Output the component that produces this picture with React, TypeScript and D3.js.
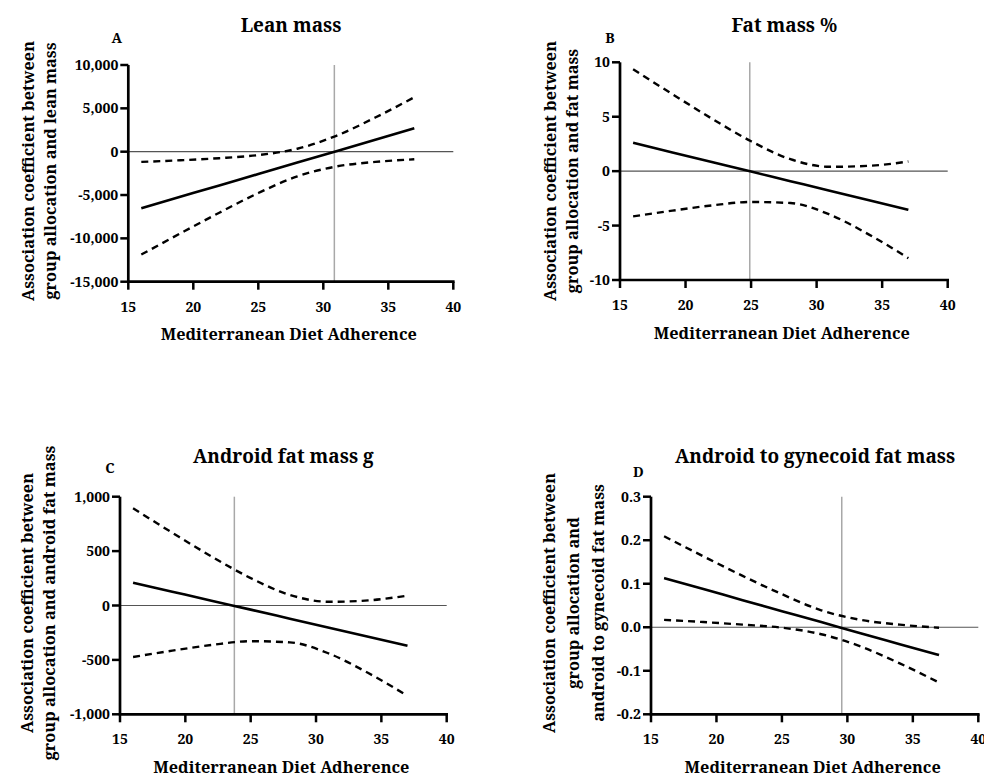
import React from "react";
import * as d3 from "d3";

// ---------- data ----------
const xValues = [16, 19, 22, 25, 28, 31, 34, 37];
const xTicks = [15, 20, 25, 30, 35, 40];

const leanEstimate = [-6530, -5210, -3890, -2580, -1260, 60, 1380, 2700];
const leanUpper = [-1180, -990, -750, -390, 340, 1830, 3940, 6280];
const leanLower = [-11870, -9430, -7040, -4770, -2850, -1710, -1180, -880];
const leanTicks = [10000, 5000, 0, -5000, -10000, -15000];
const leanCross = 30.85;

const fatEstimate = [2.6, 1.72, 0.84, -0.04, -0.92, -1.8, -2.67, -3.55];
const fatUpper = [9.36, 7.07, 4.83, 2.75, 1.1, 0.4, 0.49, 0.89];
const fatLower = [-4.16, -3.63, -3.15, -2.83, -2.93, -3.99, -5.83, -7.99];
const fatTicks = [10, 5, 0, -5, -10];
const fatCross = 24.9;

const androidEstimate = [210, 127, 44, -38, -121, -204, -287, -370];
const androidUpper = [893, 669, 451, 252, 97, 34, 47, 90];
const androidLower = [-473, -415, -363, -328, -339, -442, -621, -830];
const androidTicks = [1000, 500, 0, -500, -1000];
const androidCross = 23.75;

const ratioEstimate = [0.113, 0.088, 0.062, 0.037, 0.012, -0.014, -0.039, -0.064];
const ratioUpper = [0.209, 0.163, 0.118, 0.076, 0.039, 0.017, 0.006, -0.001];
const ratioLower = [0.017, 0.012, 0.006, -0.001, -0.016, -0.044, -0.083, -0.127];
const ratioTicks = [0.3, 0.2, 0.1, 0.0, -0.1, -0.2];
const ratioCross = 29.57;

const xTitle = "Mediterranean Diet Adherence";

// ---------- helpers ----------
const fmtComma = (v: number) => d3.format(",")(v).replace("\u2212", "-");
const fmtInt = (v: number) => d3.format("d")(v).replace("\u2212", "-");
const fmtOne = (v: number) => d3.format(".1f")(v).replace("\u2212", "-");

const FONT = "'Noto Serif', 'Liberation Serif', serif";

type PanelProps = {
  letter: string;
  title: string;
  yLines: string[];
  yTicks: number[];
  fmt: (v: number) => string;
  est: number[];
  up: number[];
  lo: number[];
  cross: number;
  L: {
    left: number; right: number; top: number; bottom: number;
    titleX: number; titleY: number;
    letterX: number; letterY: number;
    yLabelX: number[]; yLabelY: number;
  };
};

function Panel({ letter, title, yLines, yTicks, fmt, est, up, lo, cross, L }: PanelProps) {
  const x = d3.scaleLinear().domain([15, 40]).range([L.left, L.right]);
  const yMax = d3.max(yTicks) as number;
  const yMin = d3.min(yTicks) as number;
  const y = d3.scaleLinear().domain([yMin, yMax]).range([L.bottom, L.top]);
  const line = (vals: number[]) =>
    d3.line<number>()
      .x((_, i) => x(xValues[i]))
      .y((d) => y(d))
      .curve(d3.curveMonotoneX)(vals) || "";

  return (
    <g>
      <text x={L.titleX} y={L.titleY} textAnchor="middle" fontFamily={FONT} fontWeight="bold" fontSize={19}>
        {title}
      </text>
      <text x={L.letterX} y={L.letterY} textAnchor="middle" fontFamily={FONT} fontWeight="bold" fontSize={14}>
        {letter}
      </text>
      {yLines.map((s, i) => (
        <text
          key={i}
          transform={`translate(${L.yLabelX[i]},${L.yLabelY}) rotate(-90)`}
          textAnchor="middle"
          fontFamily={FONT}
          fontWeight="bold"
          fontSize={16.3}
        >
          {s}
        </text>
      ))}
      {/* reference lines */}
      <line x1={x(cross)} x2={x(cross)} y1={y(yMax)} y2={y(yMin)} stroke="#a8a8a8" strokeWidth={1.5} />
      <line x1={x(15)} x2={x(40)} y1={y(0)} y2={y(0)} stroke="#555" strokeWidth={1.2} />
      {/* curves */}
      <path d={line(up)} fill="none" stroke="#000" strokeWidth={2.4} strokeDasharray="7,5" />
      <path d={line(lo)} fill="none" stroke="#000" strokeWidth={2.4} strokeDasharray="7,5" />
      <path d={line(est)} fill="none" stroke="#000" strokeWidth={2.6} />
      {/* axes */}
      <line x1={x(15)} x2={x(15)} y1={y(yMax)} y2={y(yMin)} stroke="#000" strokeWidth={2.7} />
      <line x1={x(15) - 1.3} x2={x(40) + 1.3} y1={y(yMin)} y2={y(yMin)} stroke="#000" strokeWidth={2.7} />
      {yTicks.map((t) => (
        <g key={"y" + t}>
          <line x1={x(15) - 8} x2={x(15)} y1={y(t)} y2={y(t)} stroke="#000" strokeWidth={2.5} />
          <text x={x(15) - 10} y={y(t) + 5} textAnchor="end" fontFamily={FONT} fontWeight="bold" fontSize={14}>
            {fmt(t)}
          </text>
        </g>
      ))}
      {xTicks.map((t) => (
        <g key={"x" + t}>
          <line x1={x(t)} x2={x(t)} y1={y(yMin)} y2={y(yMin) + 8} stroke="#000" strokeWidth={2.5} />
          <text x={x(t)} y={y(yMin) + 30} textAnchor="middle" fontFamily={FONT} fontWeight="bold" fontSize={14}>
            {fmtInt(t)}
          </text>
        </g>
      ))}
      <text x={(L.left + L.right) / 2 - 2} y={L.bottom + 58.5} textAnchor="middle" fontFamily={FONT} fontWeight="bold" fontSize={16.3}>
        {xTitle}
      </text>
    </g>
  );
}

export default function App() {
  return (
    <svg
      width={984}
      height={775}
      style={{ position: "absolute", left: 0, top: 0, background: "#fff" }}
    >
      <rect width={984} height={775} fill="#fff" />
      <Panel
        letter="A"
        title="Lean mass"
        yLines={["Association coefficient between", "group allocation and lean mass"]}
        yTicks={leanTicks}
        fmt={fmtComma}
        est={leanEstimate}
        up={leanUpper}
        lo={leanLower}
        cross={leanCross}
        L={{ left: 128.3, right: 453.3, top: 65, bottom: 281.7, titleX: 291, titleY: 31.7, letterX: 116.7, letterY: 42.7, yLabelX: [34, 56], yLabelY: 171 }}
      />
      <Panel
        letter="B"
        title="Fat mass %"
        yLines={["Association coefficient between", "group allocation and fat mass"]}
        yTicks={fatTicks}
        fmt={fmtInt}
        est={fatEstimate}
        up={fatUpper}
        lo={fatLower}
        cross={fatCross}
        L={{ left: 620, right: 947.7, top: 62.3, bottom: 280, titleX: 784.3, titleY: 31.7, letterX: 610, letterY: 42.7, yLabelX: [556, 578], yLabelY: 171 }}
      />
      <Panel
        letter="C"
        title="Android fat mass g"
        yLines={["Association coefficient between", "group allocation and android fat mass"]}
        yTicks={androidTicks}
        fmt={fmtComma}
        est={androidEstimate}
        up={androidUpper}
        lo={androidLower}
        cross={androidCross}
        L={{ left: 120, right: 446.7, top: 496.7, bottom: 714.3, titleX: 283.3, titleY: 463, letterX: 110, letterY: 473.3, yLabelX: [33, 55], yLabelY: 603 }}
      />
      <Panel
        letter="D"
        title="Android to gynecoid fat mass"
        yLines={["Association coefficient between", "group allocation and", "android to gynecoid fat mass"]}
        yTicks={ratioTicks}
        fmt={fmtOne}
        est={ratioEstimate}
        up={ratioUpper}
        lo={ratioLower}
        cross={ratioCross}
        L={{ left: 651, right: 978.3, top: 496.7, bottom: 714.3, titleX: 815, titleY: 462.7, letterX: 638.3, letterY: 477.3, yLabelX: [555, 579, 604], yLabelY: 603 }}
      />
    </svg>
  );
}
